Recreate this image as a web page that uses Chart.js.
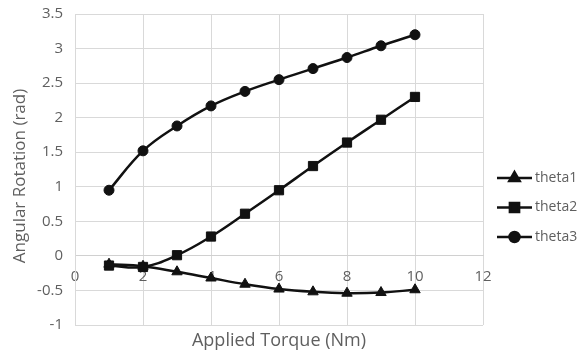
<!DOCTYPE html>
<html>
<head>
<meta charset="utf-8">
<script src="https://cdn.jsdelivr.net/npm/chart.js@4/dist/chart.umd.min.js"></script>
<style>
  body { margin: 0; background: #fff; }
  #wrap { width: 584px; height: 358px; position: relative; }
</style>
</head>
<body>
<div id="wrap"><canvas id="torqueChart" width="584" height="358"></canvas></div>
<script>
// Applied torque (Nm)
const torque = [1, 2, 3, 4, 5, 6, 7, 8, 9, 10];
// Angular rotation (rad)
const theta1 = [-0.12, -0.15, -0.23, -0.32, -0.41, -0.48, -0.52, -0.54, -0.53, -0.49];
const theta2 = [-0.14, -0.16, 0.01, 0.28, 0.61, 0.95, 1.30, 1.64, 1.97, 2.30];
const theta3 = [0.95, 1.52, 1.88, 2.17, 2.38, 2.55, 2.71, 2.87, 3.04, 3.20];
const seriesNames = ["theta1", "theta2", "theta3"];
const markers = ["triangle", "rect", "circle"];
const markerSizes = [6, 6.5, 5];

const FONT = "'Open Sans', sans-serif";
const TEXT = "#5f5f5f";
const LINE = "#111111";

function toPoints(ys) {
    return torque.map((x, i) => ({ x: x, y: ys[i] }));
}

const datasets = [theta1, theta2, theta3].map((ys, i) => ({
    label: seriesNames[i],
    data: toPoints(ys),
    borderColor: LINE,
    backgroundColor: LINE,
    borderWidth: 2.5,
    pointStyle: markers[i],
    pointRadius: markerSizes[i],
    pointBackgroundColor: LINE,
    pointBorderColor: LINE,
    pointBorderWidth: 1,
    tension: 0.4
}));

// legend and axis titles drawn by hand
const extras = {
    id: "extras",
    afterDraw(chart) {
        const ctx = chart.ctx;
        const area = chart.chartArea;
        ctx.save();
        ctx.fillStyle = TEXT;
        ctx.textAlign = "center";
        ctx.textBaseline = "middle";
        ctx.font = "18px " + FONT;
        ctx.fillText("Applied Torque (Nm)", (area.left + area.right) / 2, 341);

        ctx.save();
        ctx.translate(20, 176);
        ctx.rotate(-Math.PI / 2);
        ctx.font = "17px " + FONT;
        ctx.fillText("Angular Rotation (rad)", 0, 0);
        ctx.restore();

        const legendY = [178, 207.5, 237];
        datasets.forEach((ds, i) => {
            const y = legendY[i];
            ctx.strokeStyle = LINE;
            ctx.lineWidth = 2.5;
            ctx.beginPath();
            ctx.moveTo(497, y);
            ctx.lineTo(532, y);
            ctx.stroke();
            ctx.fillStyle = LINE;
            Chart.helpers.drawPoint(ctx, {
                pointStyle: ds.pointStyle,
                radius: ds.pointRadius,
                borderWidth: 1
            }, 514.5, y);
            ctx.fillStyle = TEXT;
            ctx.font = "14px " + FONT;
            ctx.textAlign = "left";
            ctx.fillText(ds.label, 535, y);
        });
        ctx.restore();
    }
};

new Chart(document.getElementById("torqueChart"), {
    type: "line",
    data: { datasets: datasets },
    options: {
        responsive: false,
        animation: false,
        layout: { padding: { top: 14, right: 101, bottom: 33, left: 0 } },
        plugins: { legend: { display: false }, tooltip: { enabled: false } },
        scales: {
            x: {
                type: "linear",
                position: { y: 0 },
                min: 0, max: 12,
                ticks: { stepSize: 2, color: TEXT, font: { family: FONT, size: 15 }, padding: 12 },
                grid: { color: "#d9d9d9", drawTicks: false },
                border: { color: "#d0d0d0" },
                afterFit(scale) { scale.height = 0; }
            },
            y: {
                min: -1, max: 3.5,
                ticks: {
                    stepSize: 0.5, color: TEXT, font: { family: FONT, size: 15 }, padding: 12,
                    callback: v => String(Number(v.toFixed(1)))
                },
                grid: { color: "#d9d9d9", drawTicks: false },
                border: { color: "#d9d9d9" },
                afterFit(scale) {
                    scale.width = 75;
                    scale.paddingTop = 9;
                    scale.paddingBottom = 9;
                }
            }
        }
    },
    plugins: [extras]
});
</script>
</body>
</html>
